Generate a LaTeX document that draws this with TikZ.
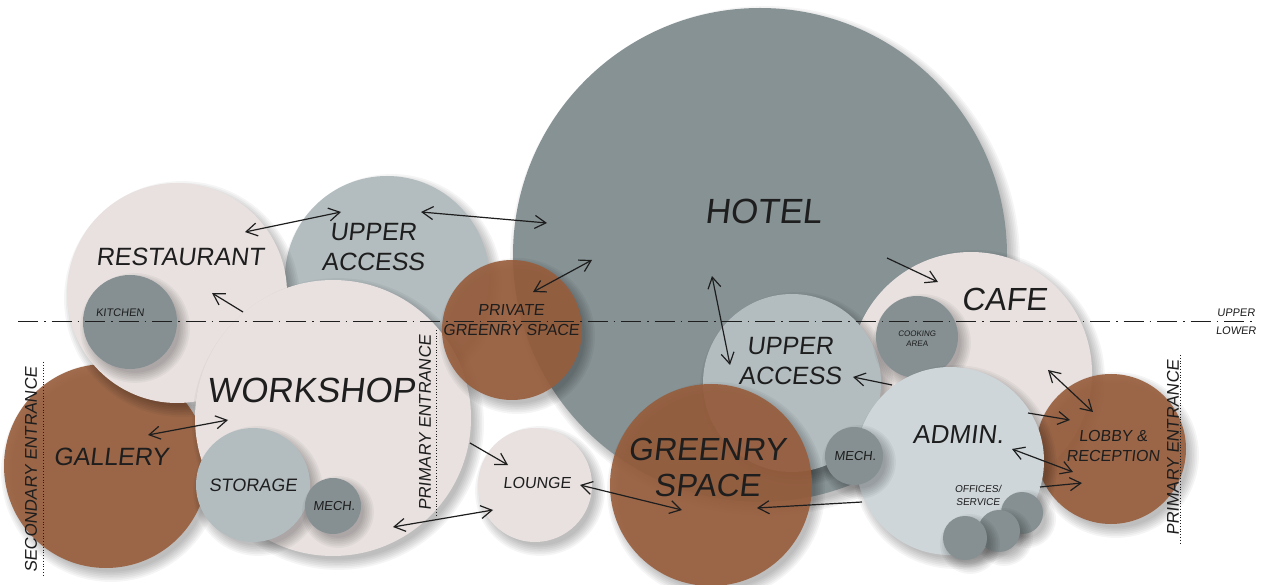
\documentclass[tikz,border=0pt]{standalone}
\usepackage{fontspec}
\setmainfont{Liberation Sans}[FakeSlant=0.12]
\usetikzlibrary{arrows.meta}
\definecolor{hotelc}{RGB}{135,146,148}
\definecolor{pinkc}{RGB}{232,225,224}
\definecolor{bluec}{RGB}{179,189,192}
\definecolor{adminc}{RGB}{206,214,217}
\definecolor{brownc}{RGB}{152,93,60}
\definecolor{darkc}{RGB}{134,144,146}
\definecolor{txt}{RGB}{30,30,30}
\tikzset{
  bub/.style={circle, inner sep=0pt, outer sep=0pt, draw=none},
  brownbub/.style={bub, fill=brownc, fill opacity=0.9},
  lbl/.style={text=txt, inner sep=0pt, align=center},
  link/.style={draw=txt, line width=1.2pt, {Straight Barb[length=11pt,width=13pt]}-{Straight Barb[length=11pt,width=13pt]}},
  onew/.style={draw=txt, line width=1.2pt, -{Straight Barb[length=11pt,width=13pt]}},
  levelline/.style={draw=txt, line width=0.9pt, dash pattern=on 20pt off 6pt on 1.5pt off 6pt},
  entline/.style={draw=txt, line width=0.8pt, dotted},
}
\newcommand\bubble[5]{%
  \foreach \k in {1,...,7}{\fill[black,opacity=0.04] ({#2+5},{#3+6}) circle[radius={(#4-4+1.7*\k)*1pt}];}
  \node[bub, minimum size={2*#4*1pt}, #5] (#1) at (#2,#3) {};
}
\newcommand\fs[2]{\fontsize{#1}{#2}\selectfont}
\begin{document}
\begin{tikzpicture}[x=1pt,y=-1pt]
\useasboundingbox (0,0) rectangle (1270,585);
\fill[white] (0,0) rectangle (1270,585);
% bubbles, back to front
\bubble{hotel}{760}{255}{247}{fill=hotelc}
\bubble{gallery}{106}{466}{102}{brownbub}
\bubble{upperL}{387}{278}{102}{fill=bluec}
\bubble{rest}{177}{293}{110}{fill=pinkc}
\bubble{kitchen}{130}{322}{47}{fill=darkc}
\bubble{workshop}{333}{418}{138}{fill=pinkc}
\bubble{storage}{253}{485}{57}{fill=bluec}
\bubble{mechL}{333}{506}{28}{fill=darkc}
\bubble{privgreen}{512}{330}{70}{brownbub}
\bubble{lounge}{535}{485}{57}{fill=pinkc}
\bubble{cafe}{971}{373}{121}{fill=pinkc}
\bubble{upperR}{792}{383}{89}{fill=bluec}
\bubble{cooking}{917}{337}{41}{fill=darkc}
\bubble{greenry}{711}{485}{101}{brownbub}
\bubble{lobby}{1111}{449}{75}{brownbub}
\bubble{admin}{950}{461}{94}{fill=adminc}
\bubble{mechR}{854}{456}{29}{fill=darkc}
\bubble{off1}{1022}{513}{21}{fill=darkc}
\bubble{off2}{999}{531}{21}{fill=darkc}
\bubble{off3}{965}{538}{22}{fill=darkc}
% level line
\coordinate (lvA) at (18,321);
\coordinate (lvB) at (1256,321);
\draw[levelline] (lvA) -- (lvB);
\node[lbl, anchor=base, font=\fs{11}{13}] (upperlbl) at (1236,317) {UPPER};
\node[lbl, anchor=base, font=\fs{11}{13}] (lowerlbl) at (1236,335) {LOWER};
% entrance lines
\coordinate (e1a) at (43,362); \coordinate (e1b) at (43,577);
\draw[entline] (e1a) -- (e1b);
\coordinate (e2a) at (436,330); \coordinate (e2b) at (436,517);
\draw[entline] (e2a) -- (e2b);
\coordinate (e3a) at (1180,355); \coordinate (e3b) at (1180,543);
\draw[entline] (e3a) -- (e3b);
\node[lbl, rotate=90, font=\fs{17}{20}] (secent) at (31,470) {SECONDARY ENTRANCE};
\node[lbl, rotate=90, font=\fs{17}{20}] (priment1) at (425,423) {PRIMARY ENTRANCE};
\node[lbl, rotate=90, font=\fs{17}{20}] (priment2) at (1173,448) {PRIMARY ENTRANCE};
% labels
\node[lbl, font=\fs{35}{40}] (thotel) at (763,211) {HOTEL};
\node[lbl, font=\fs{25}{30}] (trest) at (180,257) {RESTAURANT};
\node[lbl, font=\fs{25}{30}] (tupL) at (373,247) {UPPER\\ ACCESS};
\node[lbl, font=\fs{11}{13}] (tkit) at (120,313) {KITCHEN};
\node[lbl, font=\fs{35}{40}] (twork) at (311,390) {WORKSHOP};
\node[lbl, font=\fs{25}{30}] (tgal) at (111,457) {GALLERY};
\node[lbl, font=\fs{18}{22}] (tstor) at (253,485) {STORAGE};
\node[lbl, font=\fs{13}{15}] (tmechL) at (334,506) {MECH.};
\node[lbl, font=\fs{16}{20}] (tpriv) at (511,320) {PRIVATE\\ GREENRY SPACE};
\node[lbl, font=\fs{16}{20}] (tlounge) at (537,483) {LOUNGE};
\node[lbl, font=\fs{32}{36}] (tgreen) at (707,467) {GREENRY\\ SPACE};
\node[lbl, font=\fs{25}{30}] (tupR) at (790,361) {UPPER\\ ACCESS};
\node[lbl, font=\fs{13}{15}] (tmechR) at (855,456) {MECH.};
\node[lbl, font=\fs{32}{36}] (tcafe) at (1004,299) {CAFE};
\node[lbl, font=\fs{8}{10}] (tcook) at (917,339) {COOKING\\ AREA};
\node[lbl, font=\fs{26}{30}] (tadmin) at (958,435) {ADMIN.};
\node[lbl, font=\fs{16}{20}] (tlobby) at (1113,446) {LOBBY \&\\ RECEPTION};
\node[lbl, font=\fs{10}{13}] (toff) at (978,495) {OFFICES/\\ SERVICE};
% arrows
\coordinate (a1s) at (245,232); \coordinate (a1e) at (341,212);
\draw[link] (a1s) -- (a1e);
\coordinate (a2s) at (421,212); \coordinate (a2e) at (547,223);
\draw[link] (a2s) -- (a2e);
\coordinate (a3s) at (243,312); \coordinate (a3e) at (212,293);
\draw[onew] (a3s) -- (a3e);
\coordinate (a4s) at (533,292); \coordinate (a4e) at (592,260);
\draw[link] (a4s) -- (a4e);
\coordinate (a5s) at (148,435); \coordinate (a5e) at (228,420);
\draw[link] (a5s) -- (a5e);
\coordinate (a6s) at (470,443); \coordinate (a6e) at (508,465);
\draw[onew] (a6s) -- (a6e);
\coordinate (a7s) at (393,527); \coordinate (a7e) at (493,510);
\draw[link] (a7s) -- (a7e);
\coordinate (a8s) at (580,485); \coordinate (a8e) at (682,510);
\draw[link] (a8s) -- (a8e);
\coordinate (a9s) at (862,502); \coordinate (a9e) at (757,508);
\draw[onew] (a9s) -- (a9e);
\coordinate (a10s) at (712,276); \coordinate (a10e) at (730,365);
\draw[link] (a10s) -- (a10e);
\coordinate (a11s) at (887,258); \coordinate (a11e) at (938,282);
\draw[onew] (a11s) -- (a11e);
\coordinate (a12s) at (892,385); \coordinate (a12e) at (853,377);
\draw[onew] (a12s) -- (a12e);
\coordinate (a13s) at (1048,370); \coordinate (a13e) at (1093,412);
\draw[link] (a13s) -- (a13e);
\coordinate (a14s) at (1028,413); \coordinate (a14e) at (1070,420);
\draw[onew] (a14s) -- (a14e);
\coordinate (a15s) at (1012,449); \coordinate (a15e) at (1073,472);
\draw[link] (a15s) -- (a15e);
\coordinate (a16s) at (1040,487); \coordinate (a16e) at (1082,483);
\draw[onew] (a16s) -- (a16e);
\end{tikzpicture}
\end{document}
